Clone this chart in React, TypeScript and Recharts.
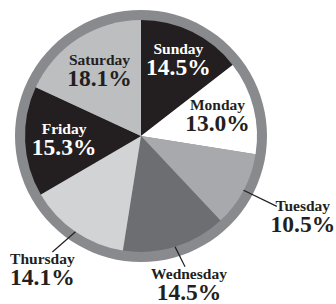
import React from 'react';
import { PieChart, Pie, Cell } from 'recharts';

const days = ['Sunday', 'Monday', 'Tuesday', 'Wednesday', 'Thursday', 'Friday', 'Saturday'];
const shares = [14.5, 13.0, 10.5, 14.5, 14.1, 15.3, 18.1];

const sliceColors = ['#231f20', '#ffffff', '#a7a9ac', '#6d6e71', '#d1d3d4', '#231f20', '#bcbec0'];
const textColors = ['#ffffff', '#231f20', '#231f20', '#231f20', '#231f20', '#ffffff', '#231f20'];

// label placement (layout only)
const insideRadius: Record<string, number> = { Sunday: 85, Monday: 79, Friday: 77, Saturday: 77 };
const outsideLayout: Record<string, { end: number; turn: number; dx: number; dy: number }> = {
  Tuesday: { end: 153, turn: 0.5, dx: 26, dy: 11 },
  Wednesday: { end: 138, turn: 1.5, dx: 4, dy: 18 },
  Thursday: { end: 146, turn: -3, dx: -10, dy: 18 },
};

const data = days.map((d, i) => ({ name: d, value: shares[i] }));
const ring = [{ name: 'ring', value: 1 }];

const RAD = Math.PI / 180;
const FONT = '"Liberation Serif", "Times New Roman", serif';
const DARK = '#231f20';

const renderLabel = (props: any) => {
  const { cx, cy, midAngle, index, outerRadius } = props;
  const name = days[index];
  const pct = `${shares[index].toFixed(1)}%`;
  const out = outsideLayout[name];
  let x: number;
  let y: number;
  let line = null;
  if (out) {
    const a0 = -midAngle * RAD;
    const a1 = -(midAngle + out.turn) * RAD;
    const x1 = cx + outerRadius * Math.cos(a0);
    const y1 = cy + outerRadius * Math.sin(a0);
    const x2 = cx + out.end * Math.cos(a1);
    const y2 = cy + out.end * Math.sin(a1);
    x = x2 + out.dx;
    y = y2 + out.dy;
    line = <line x1={x1} y1={y1} x2={x2} y2={y2} stroke={DARK} strokeWidth={1.2} />;
  } else {
    const r = insideRadius[name] ?? 80;
    x = cx + r * Math.cos(-midAngle * RAD);
    y = cy + r * Math.sin(-midAngle * RAD);
  }
  const fill = textColors[index];
  return (
    <g key={`lbl-${index}`}>
      {line}
      <text x={x} y={y - 6} textAnchor="middle" fill={fill} fontFamily={FONT} fontWeight="bold" fontSize={15.5}>
        {name}
      </text>
      <text x={x} y={y + 15} textAnchor="middle" fill={fill} fontFamily={FONT} fontWeight="bold" fontSize={23.5}>
        {pct}
      </text>
    </g>
  );
};

export default function App() {
  return (
    <div style={{ position: 'absolute', left: 0, top: 0, background: '#ffffff' }}>
      <PieChart width={336} height={304} margin={{ top: 0, right: 0, bottom: 0, left: 0 }}>
        <Pie
          data={ring}
          dataKey="value"
          cx={141}
          cy={136}
          outerRadius={126}
          innerRadius={0}
          startAngle={90}
          endAngle={-270}
          stroke="none"
          fill="#898a8d"
          isAnimationActive={false}
        />
        <Pie
          data={data}
          dataKey="value"
          nameKey="name"
          cx={141}
          cy={136}
          outerRadius={116}
          innerRadius={0}
          startAngle={90}
          endAngle={-270}
          stroke="none"
          label={renderLabel}
          labelLine={false}
          isAnimationActive={false}
        >
          {data.map((d, i) => (
            <Cell key={d.name} fill={sliceColors[i]} />
          ))}
        </Pie>
      </PieChart>
    </div>
  );
}
